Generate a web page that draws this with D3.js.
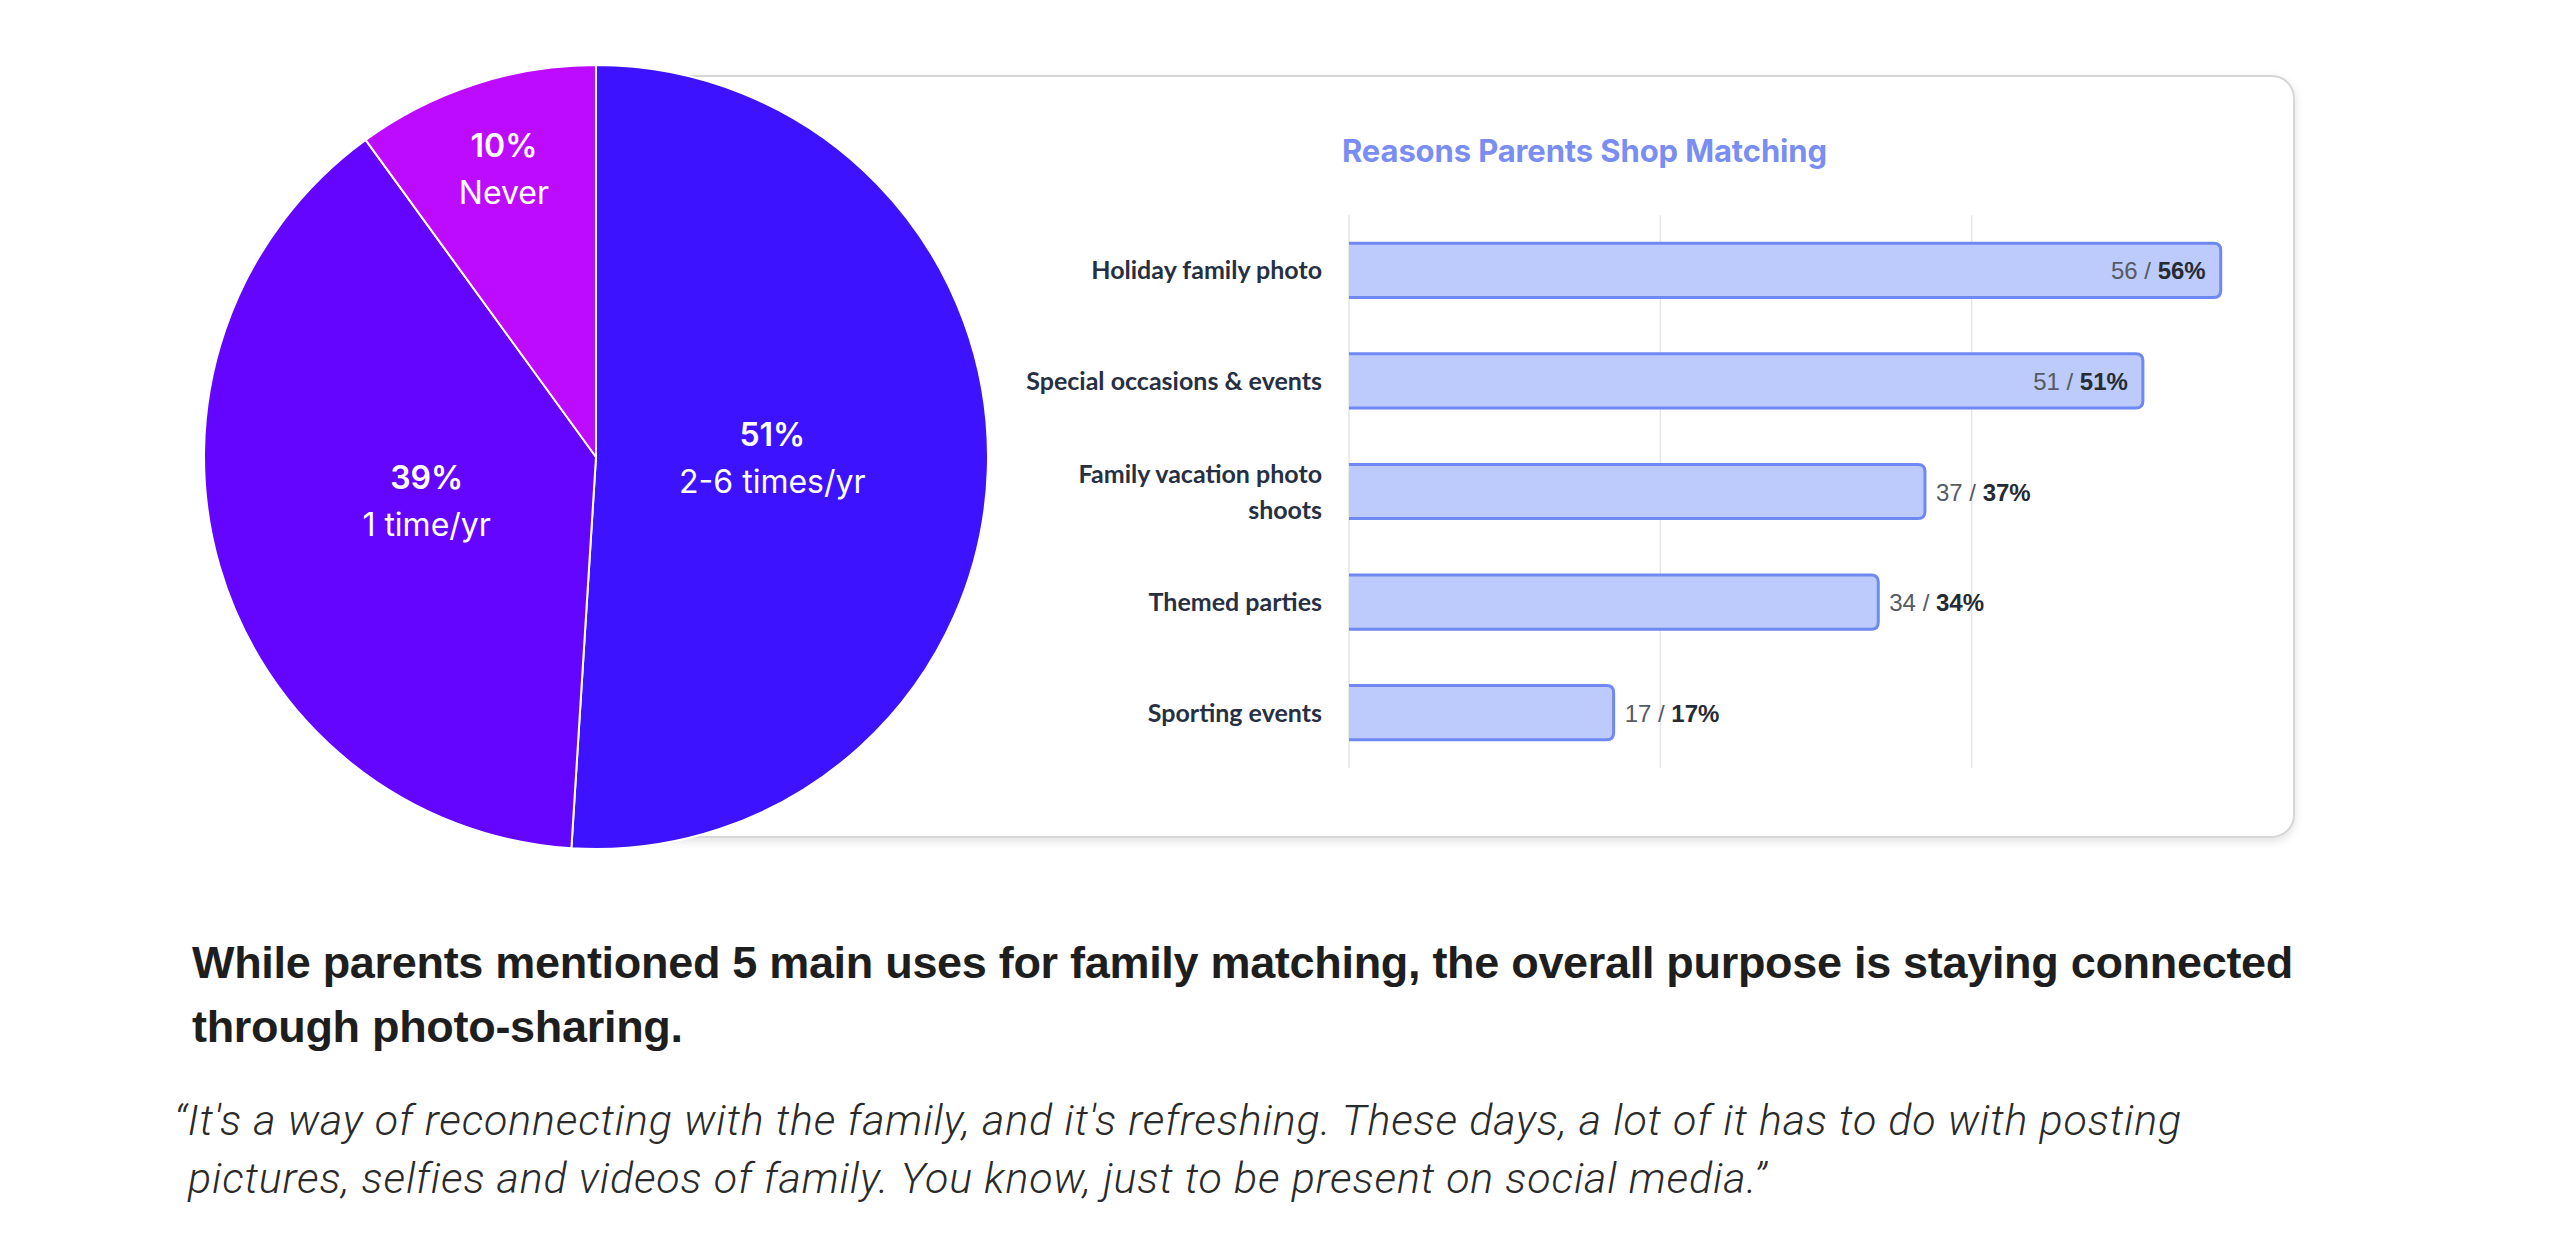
<!DOCTYPE html>
<html>
<head>
<meta charset="utf-8">
<script src="https://cdn.jsdelivr.net/npm/d3@7"></script>
<style>
  html, body { margin: 0; padding: 0; background: #ffffff; }
  svg { display: block; }
</style>
</head>
<body>
<svg id="chart" width="2560" height="1253"></svg>
<script>
// ---------------- DATA ----------------
const pieCategories = ["2-6 times/yr", "1 time/yr", "Never"];
const pieValues = [51, 39, 10];
const pieColors = ["#3d12ff", "#6406ff", "#bd0bff"];

const barTitle = "Reasons Parents Shop Matching";
const barCategories = ["Holiday family photo", "Special occasions & events", "Family vacation photo\nshoots", "Themed parties", "Sporting events"];
const barCounts = [56, 51, 37, 34, 17];
const barPercents = [56, 51, 37, 34, 17];
const xTicks = [0, 20, 40];

const headlineLines = [
  "While parents mentioned 5 main uses for family matching, the overall purpose is staying connected",
  "through photo-sharing."
];
const quoteLines = [
  "\u201CIt's a way of reconnecting with the family, and it's refreshing. These days, a lot of it has to do with posting",
  "pictures, selfies and videos of family. You know, just to be present on social media.\u201D"
];

// ---------------- DRAW ----------------
function draw() {
  const svg = d3.select("#chart");

  const defs = svg.append("defs");
  const f = defs.append("filter").attr("id", "shadow")
    .attr("x", "-5%").attr("y", "-5%").attr("width", "110%").attr("height", "115%");
  f.append("feDropShadow").attr("dx", 0).attr("dy", 3).attr("stdDeviation", 4)
    .attr("flood-color", "#000").attr("flood-opacity", 0.12);

  // Card (behind the pie)
  const card = { x: 560, y: 76, w: 1734, h: 761, r: 22 };
  svg.append("rect")
    .attr("x", card.x).attr("y", card.y).attr("width", card.w).attr("height", card.h)
    .attr("rx", card.r).attr("ry", card.r)
    .attr("fill", "#ffffff").attr("stroke", "#d6d6d6").attr("stroke-width", 2)
    .attr("filter", "url(#shadow)");

  // ---------- Bar chart ----------
  const x = d3.scaleLinear().domain([0, 60]).range([1349, 2283]);
  const y = d3.scaleBand().domain(d3.range(barCategories.length))
    .range([215, 768]).paddingInner(0.51).paddingOuter(0.255);

  const g = svg.append("g");

  // title
  const title = g.append("text")
    .attr("x", 1342).attr("y", 162)
    .attr("font-family", "Inter, 'Liberation Sans', sans-serif")
    .attr("font-weight", 700).attr("font-size", 31)
    .attr("fill", "#7a8df3")
    .text(barTitle);
  {
    const w = title.node().getComputedTextLength();
    title.attr("letter-spacing", (485 - w) / barTitle.length);
  }

  // gridlines
  g.append("g").selectAll("line").data(xTicks).join("line")
    .attr("x1", d => x(d)).attr("x2", d => x(d))
    .attr("y1", 215).attr("y2", 768)
    .attr("stroke", "#e4e6ec").attr("stroke-width", 1.5);

  // bars
  const rr = 7;
  g.append("g").selectAll("path").data(barPercents).join("path")
    .attr("d", (d, i) => {
      const x0 = x(0), x1 = x(d), t = y(i), b = y(i) + y.bandwidth();
      return `M${x0},${t} L${x1 - rr},${t} Q${x1},${t} ${x1},${t + rr} L${x1},${b - rr} Q${x1},${b} ${x1 - rr},${b} L${x0},${b}`;
    })
    .attr("fill", "#bccbfb").attr("stroke", "#7088f2").attr("stroke-width", 3);

  // category labels
  const catG = g.append("g");
  barCategories.forEach((c, i) => {
    const lines = c.split("\n");
    const cy = y(i) + y.bandwidth() / 2;
    const lh = 36;
    const t = catG.append("text")
      .attr("text-anchor", "end")
      .attr("font-family", "Lato, 'Open Sans', sans-serif")
      .attr("font-weight", 700).attr("font-size", 25)
      .attr("fill", "#273043");
    lines.forEach((ln, k) => {
      t.append("tspan").attr("x", 1322)
        .attr("y", cy + 9 + (k - (lines.length - 1) / 2) * lh)
        .text(ln);
    });
  });

  // value labels
  barPercents.forEach((p, i) => {
    const cy = y(i) + y.bandwidth() / 2;
    const inside = p / x.domain()[1] > 0.8;
    const t = g.append("text")
      .attr("x", inside ? x(p) - 15 : x(p) + 11)
      .attr("y", cy + 9)
      .attr("text-anchor", inside ? "end" : "start")
      .attr("font-family", "'Liberation Sans', Arial, sans-serif")
      .attr("font-size", 24);
    t.append("tspan").attr("fill", "#555a63").attr("font-weight", 400).text(barCounts[i] + " / ");
    t.append("tspan").attr("fill", "#262b33").attr("font-weight", 700).text(p + "%");
  });

  // ---------- Pie ----------
  const cx = 596, cy = 457, R = 392;
  const pie = d3.pie().sort(null).value(d => d)(pieValues);
  const arc = d3.arc().innerRadius(0).outerRadius(R);
  const pg = svg.append("g").attr("transform", `translate(${cx},${cy})`);
  pg.selectAll("path").data(pie).join("path")
    .attr("d", arc)
    .attr("fill", (d, i) => pieColors[i])
    .attr("stroke", "#ffffff").attr("stroke-width", 2).attr("stroke-linejoin", "round");

  pie.forEach((d, i) => {
    const frac = (d.endAngle - d.startAngle) / (2 * Math.PI);
    const lr = frac < 0.15 ? 0.76 * R : 0.45 * R;
    const a = (d.startAngle + d.endAngle) / 2;
    const lx = Math.sin(a) * lr, ly = -Math.cos(a) * lr;
    const t = pg.append("text").attr("text-anchor", "middle")
      .attr("font-family", "Inter, 'Open Sans', sans-serif")
      .attr("font-size", 32).attr("fill", "#ffffff");
    t.append("tspan").attr("x", lx).attr("y", ly - 17).attr("font-weight", 600).text(pieValues[i] + "%");
    t.append("tspan").attr("x", lx).attr("y", ly + 30).attr("font-weight", 400).text(pieCategories[i]);
  });

  // ---------- Headline ----------
  const head = svg.append("g");
  let headLS = 0;
  headlineLines.forEach((ln, k) => {
    const t = head.append("text")
      .attr("x", 192).attr("y", 978 + k * 64)
      .attr("font-family", "'Liberation Sans', Arial, Helvetica, sans-serif")
      .attr("font-weight", 700).attr("font-size", 45)
      .attr("fill", "#1e1e1e")
      .text(ln);
    if (k === 0) {
      const w = t.node().getComputedTextLength();
      headLS = (2101 - w) / ln.length;
    }
    t.attr("letter-spacing", headLS);
  });

  // ---------- Quote ----------
  const quote = svg.append("g");
  const qx = [174, 188];
  let qLS = 0;
  quoteLines.forEach((ln, k) => {
    const t = quote.append("text")
      .attr("x", qx[k]).attr("y", 1135 + k * 58)
      .attr("font-family", "Roboto, 'Liberation Sans', sans-serif")
      .attr("font-weight", 300).attr("font-style", "italic")
      .attr("font-size", 43)
      .attr("fill", "#2a2a2a")
      .text(ln);
    if (k === 0) {
      const w = t.node().getComputedTextLength();
      qLS = (2008 - w) / ln.length;
    }
    t.attr("letter-spacing", qLS);
  });
}

if (document.fonts && document.fonts.ready) {
  document.fonts.ready.then(draw);
} else {
  draw();
}
</script>
</body>
</html>
